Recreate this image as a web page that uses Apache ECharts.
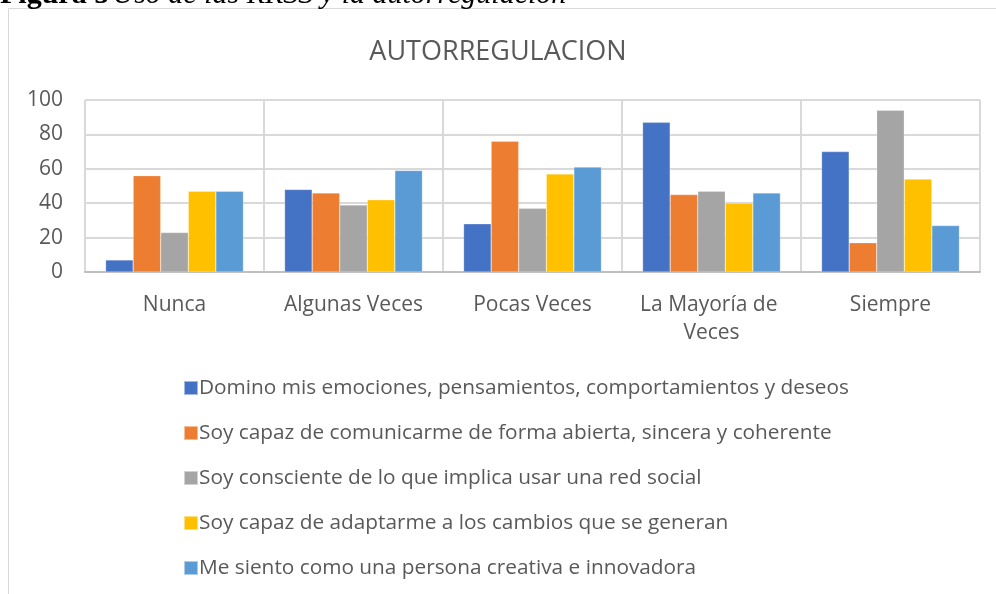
<!DOCTYPE html>
<html>
<head>
<meta charset="utf-8">
<script src="https://cdn.jsdelivr.net/npm/echarts@6/dist/echarts.min.js"></script>
<style>
  html, body { margin: 0; padding: 0; background: #fff; }
  #chart { width: 996px; height: 594px; }
</style>
</head>
<body>
<div id="chart"></div>
<script>
// categorias y series
const categories = ['Nunca', 'Algunas Veces', 'Pocas Veces', 'La Mayoría de Veces', 'Siempre'];
const seriesNames = [
  'Domino mis emociones, pensamientos, comportamientos y deseos',
  'Soy capaz de comunicarme de forma abierta, sincera y coherente',
  'Soy consciente de lo que implica usar una red social',
  'Soy capaz de adaptarme a los cambios que se generan',
  'Me siento como una persona creativa e innovadora',
];
const domino = [7, 48, 28, 87, 70];
const comunicarme = [56, 46, 76, 45, 17];
const consciente = [23, 39, 37, 47, 94];
const adaptarme = [47, 42, 57, 40, 54];
const creativa = [47, 59, 61, 46, 27];
const yTicks = [0, 20, 40, 60, 80, 100];

const colors = ['#4472C4', '#ED7D31', '#A5A5A5', '#FFC000', '#5B9BD5'];
const values = [domino, comunicarme, consciente, adaptarme, creativa];
const font = '"Open Sans", sans-serif';
const textColor = '#595959';

const chart = echarts.init(document.getElementById('chart'));

chart.setOption({
  animation: false,
  color: colors,
  textStyle: { fontFamily: font },
  title: {
    text: 'AUTORREGULACION',
    left: 'center',
    top: 34,
    textStyle: { fontFamily: font, fontSize: 27, fontWeight: 'normal', color: textColor },
  },
  graphic: [
    {
      type: 'rect',
      silent: true,
      shape: { x: 8.5, y: 8.5, width: 1100, height: 1000 },
      style: { fill: 'none', stroke: '#d9d9d9', lineWidth: 1 },
    },
    {
      // pie de figura cortado arriba
      type: 'text',
      left: 0,
      top: -20,
      silent: true,
      style: {
        text: '{b|Figura 5} {i|Uso de las RRSS y la autorregulación}',
        rich: {
          b: { fontFamily: 'Liberation Serif', fontSize: 30, fontWeight: 'bold', fill: '#000' },
          i: { fontFamily: 'Liberation Serif', fontSize: 30, fontStyle: 'italic', fill: '#000' },
        },
      },
    },
  ],
  legend: {
    orient: 'vertical',
    left: 178,
    top: 372,
    itemWidth: 14,
    itemHeight: 14,
    itemGap: 23,
    icon: 'rect',
    data: seriesNames,
    textStyle: { fontFamily: font, fontSize: 20.8, color: textColor, lineHeight: 22, padding: [0, 0, 0, -4] },
  },
  grid: { left: 85, right: 16, top: 100, bottom: 322 },
  xAxis: {
    type: 'category',
    data: categories,
    boundaryGap: true,
    axisLine: { lineStyle: { color: '#bfbfbf', width: 2 } },
    axisTick: { show: false },
    splitLine: { show: true, lineStyle: { color: '#d9d9d9', width: 2 } },
    axisLabel: {
      interval: 0,
      margin: 19,
      fontSize: 21,
      color: textColor,
      lineHeight: 28,
      width: 165,
      overflow: 'break',
    },
  },
  yAxis: {
    type: 'value',
    min: 0,
    max: 100,
    interval: 20,
    axisLine: { show: false },
    axisTick: { show: false },
    splitLine: { lineStyle: { color: '#d9d9d9', width: 2 } },
    axisLabel: {
      margin: 22,
      fontSize: 21,
      color: textColor,
      formatter: (v) => (yTicks.includes(v) ? String(v) : ''),
    },
  },
  series: seriesNames.map((name, i) => ({
    name,
    type: 'bar',
    data: values[i],
    barGap: '0%',
    barCategoryGap: '23%',
    itemStyle: { borderColor: 'rgba(255,255,255,0.5)', borderWidth: 0.5 },
  })),
});
</script>
</body>
</html>
